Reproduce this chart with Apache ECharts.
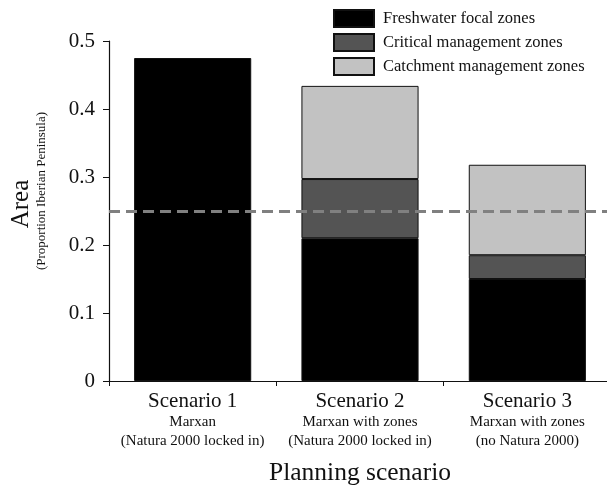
<!DOCTYPE html>
<html>
<head>
<meta charset="utf-8">
<script src="https://cdn.jsdelivr.net/npm/echarts@6/dist/echarts.min.js"></script>
<style>
  html, body { margin: 0; padding: 0; background: #fff; }
  #chart { width: 607px; height: 489px; }
</style>
</head>
<body>
<div id="chart"></div>
<script>
// Planning scenarios on the x axis
const scenarios = ['Scenario 1', 'Scenario 2', 'Scenario 3'];
const scenarioMethods = ['Marxan', 'Marxan with zones', 'Marxan with zones'];
const scenarioNotes = ['(Natura 2000 locked in)', '(Natura 2000 locked in)', '(no Natura 2000)'];

// Area of each zone type (proportion of the Iberian Peninsula), stacked per scenario
const freshwaterFocal = [0.475, 0.210, 0.150];
const criticalManagement = ['-', 0.087, 0.035];
const catchmentManagement = ['-', 0.137, 0.133];

// Reference level drawn as a dashed line
const referenceLevel = 0.252;

const serif = 'Liberation Serif, Times New Roman, serif';

const chart = echarts.init(document.getElementById('chart'));

const barStyle = (color) => ({ color: color, borderColor: '#111', borderWidth: 1 });

chart.setOption({
  animation: false,
  backgroundColor: '#fff',
  textStyle: { fontFamily: serif },
  grid: { left: 109, right: -4, top: 41, bottom: 108, outerBoundsMode: 'none', containLabel: false },
  legend: {
    orient: 'vertical',
    left: 333,
    top: 9,
    padding: 0,
    icon: 'rect',
    itemWidth: 40,
    itemHeight: 17,
    itemGap: 5,
    textStyle: { fontFamily: serif, fontSize: 16.5, color: '#111', lineHeight: 17, padding: [0, 0, 0, 4] },
    data: ['Freshwater focal zones', 'Critical management zones', 'Catchment management zones']
  },
  xAxis: {
    type: 'category',
    data: scenarios,
    name: 'Planning scenario',
    nameLocation: 'middle',
    nameGap: 79,
    nameTextStyle: { fontFamily: serif, fontSize: 25.5, color: '#111' },
    axisLine: { lineStyle: { color: '#111', width: 1.2 } },
    axisTick: { show: true, length: 5, lineStyle: { color: '#111' } },
    axisLabel: {
      margin: 8,
      interval: 0,
      formatter: (v, i) => '{a|' + v + '}\n{b|' + scenarioMethods[i] + '}\n{b|' + scenarioNotes[i] + '}',
      rich: {
        a: { fontFamily: serif, fontSize: 21, color: '#111', lineHeight: 24 },
        b: { fontFamily: serif, fontSize: 15, color: '#111', lineHeight: 19 }
      }
    }
  },
  yAxis: {
    type: 'value',
    min: 0,
    max: 0.5,
    interval: 0.1,
    name: '{a|Area}\n{b|(Proportion Iberian Peninsula)}',
    nameLocation: 'middle',
    nameRotate: 90,
    nameGap: 59,
    nameTextStyle: {
      padding: [0, 0, 0, 40],
      rich: {
        a: { fontFamily: serif, fontSize: 25, color: '#111', lineHeight: 25, padding: [0, 26, 0, 0] },
        b: { fontFamily: serif, fontSize: 13, color: '#111', lineHeight: 16 }
      }
    },
    splitLine: { show: false },
    axisLine: { show: true, lineStyle: { color: '#111', width: 1.2 } },
    axisTick: { show: true, length: 6, lineStyle: { color: '#111' } },
    axisLabel: {
      fontFamily: serif,
      fontSize: 21,
      color: '#111',
      margin: 14,
      formatter: (v) => (v === 0 ? '0' : v.toFixed(1))
    }
  },
  series: [
    {
      name: 'Freshwater focal zones',
      type: 'bar',
      stack: 'area',
      barWidth: '70%',
      data: freshwaterFocal,
      itemStyle: barStyle('#000'),
      markLine: {
        silent: true,
        symbol: 'none',
        label: { show: false },
        lineStyle: { color: '#808080', type: [11, 6], width: 3 },
        data: [{ yAxis: referenceLevel }]
      },
      z: 2
    },
    {
      name: 'Critical management zones',
      type: 'bar',
      stack: 'area',
      data: criticalManagement,
      itemStyle: barStyle('#545454')
    },
    {
      name: 'Catchment management zones',
      type: 'bar',
      stack: 'area',
      data: catchmentManagement,
      itemStyle: barStyle('#c2c2c2')
    }
  ]
});
</script>
</body>
</html>
